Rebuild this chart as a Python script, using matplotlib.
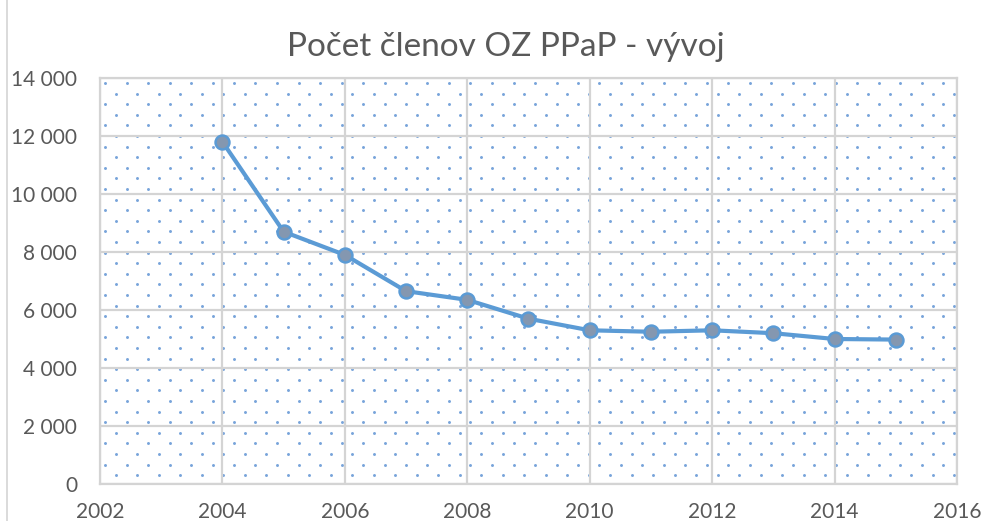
import numpy as np
import matplotlib.pyplot as plt
from matplotlib.lines import Line2D

years = [2004, 2005, 2006, 2007, 2008, 2009, 2010, 2011, 2012, 2013, 2014, 2015]
members = [11800, 8700, 7900, 6650, 6350, 5700, 5300, 5250, 5300, 5200, 5000, 4980]
x_ticks = [2002, 2004, 2006, 2008, 2010, 2012, 2014, 2016]
y_ticks = [0, 2000, 4000, 6000, 8000, 10000, 12000, 14000]
y_labels = ['0', '2 000', '4 000', '6 000', '8 000', '10 000', '12 000', '14 000']
title = 'Počet členov OZ PPaP - vývoj'

plt.rcParams['font.family'] = ['Lato', 'DejaVu Sans']
text_col = '#595959'
grid_col = '#d4d4d4'

W, H = 995, 521
fig = plt.figure(figsize=(W / 100, H / 100), dpi=100)
ax = fig.add_axes([100 / W, 1 - 484 / H, 857 / W, 406 / H])

# dotted background pattern (staggered rows), in pixel steps
px_w, px_h = 857, 406
dx, dy = 21.5, 10.6
pts_x, pts_y = [], []
for r, yy in enumerate(np.arange(5, px_h, dy)):
    off = 0 if r % 2 == 0 else dx / 2
    for xx in np.arange(5 + off, px_w, dx):
        pts_x.append(xx / px_w)
        pts_y.append(1 - yy / px_h)
ax.scatter(pts_x, pts_y, s=4.5, color='#78a4da', transform=ax.transAxes,
           zorder=0, linewidths=0)

ax.plot(years, members, color='#5b9bd5', linewidth=3, zorder=3,
        marker='o', markersize=10, markerfacecolor='#8497b0',
        markeredgecolor='#5b9bd5', markeredgewidth=1.8)

ax.set_xlim(2002, 2016)
ax.set_ylim(0, 14000)
ax.set_xticks(x_ticks)
ax.set_yticks(y_ticks)
ax.set_yticklabels(y_labels)
ax.grid(True, color=grid_col, linewidth=1.6, zorder=1)
ax.set_axisbelow(True)
for s in ax.spines.values():
    s.set_color(grid_col)
    s.set_linewidth(1.6)
ax.tick_params(length=0, colors=text_col, labelsize=15)
ax.tick_params(axis='y', pad=16.5)
ax.tick_params(axis='x', pad=13)

fig.text(0.508, 1 - 56 / H, title, ha='center', va='baseline',
         fontsize=24, color=text_col)

fig.add_artist(Line2D([7 / W, 7 / W], [0, 1], color=grid_col, linewidth=1.2,
                      transform=fig.transFigure))

fig.savefig('out.png', dpi=100)
